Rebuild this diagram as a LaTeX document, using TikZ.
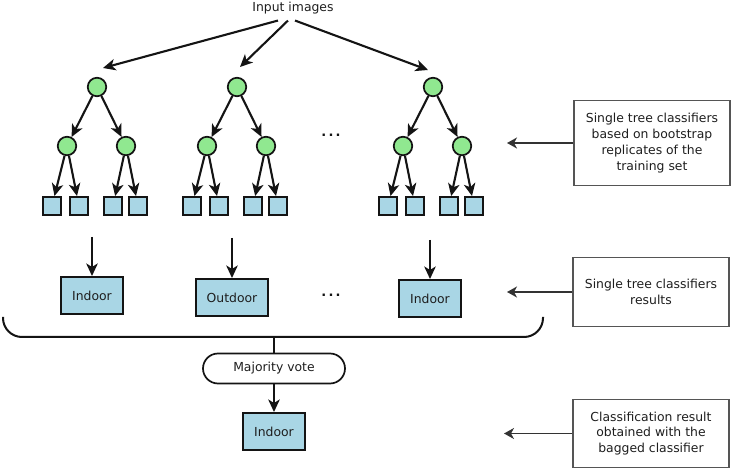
\documentclass[tikz,border=0pt]{standalone}
\usepackage{fontspec}
\setmainfont{DejaVu Sans}
\usetikzlibrary{arrows.meta,shapes.misc,calc}
\definecolor{outl}{HTML}{141414}
\definecolor{grn}{HTML}{90E890}
\definecolor{blu}{HTML}{A9D6E5}
\definecolor{gry}{HTML}{555555}
\definecolor{garr}{HTML}{333333}
\definecolor{txt}{HTML}{1E1E1E}
\begin{document}
\begin{tikzpicture}[x=1pt,y=-1pt,
  every node/.style={font=\fontsize{12.4}{15.9}\selectfont, text=txt},
  innernode/.style={circle,draw=outl,fill=grn,line width=1.7pt,minimum size=18.5pt,inner sep=0pt},
  leafbox/.style={rectangle,draw=outl,fill=blu,line width=1.9pt,minimum size=18pt,inner sep=0pt},
  resbox/.style={rectangle,draw=outl,fill=blu,line width=2pt,minimum height=37pt,inner sep=0pt},
  note/.style={rectangle,draw=gry,line width=1.2pt,align=center,inner sep=0pt,minimum width=156pt},
  treearrow/.style={-{Stealth[length=12.5pt,width=11.5pt,inset=3.5pt]},line width=2.1pt,draw=outl},
  notearrow/.style={-{Stealth[length=10pt,width=11pt,inset=3pt]},line width=1.4pt,draw=garr},
  plainline/.style={line width=2pt,draw=outl},
  dotstyle/.style={font=\fontsize{13}{16}\selectfont\bfseries, text=outl},
]
\useasboundingbox (0,0) rectangle (732,470);

% input
\node (input) at (293,8) {Input images};
\coordinate (t1) at (103,68);
\coordinate (t2) at (240,67);
\coordinate (t3) at (428,70);
\draw[treearrow] ([xshift=-15pt,yshift=-3pt]input.south) -- (t1);
\draw[treearrow] ([xshift=-5pt,yshift=-3pt]input.south) -- (t2);
\draw[treearrow] ([xshift=2pt,yshift=-3pt]input.south) -- (t3);

% trees
\foreach \i/\x in {1/97,2/237,3/433} {
  \node[innernode] (r\i) at (\x,87) {};
  \node[innernode] (a\i) at (\x-30,146) {};
  \node[innernode] (b\i) at (\x+29,146) {};
  \node[leafbox] (la\i) at (\x-45,206) {};
  \node[leafbox] (lb\i) at (\x-18,206) {};
  \node[leafbox] (lc\i) at (\x+16,206) {};
  \node[leafbox] (ld\i) at (\x+41,206) {};
  \draw[treearrow] (r\i) -- (a\i);
  \draw[treearrow] (r\i) -- (b\i);
  \draw[treearrow] (a\i) -- (la\i);
  \draw[treearrow] (a\i) -- (lb\i);
  \draw[treearrow] (b\i) -- (lc\i);
  \draw[treearrow] (b\i) -- (ld\i);
}

% dots
\node[dotstyle] (dots1) at (331,135) {.\hspace{2.2pt}.\hspace{2.2pt}.};
\node[dotstyle] (dots2) at (331,295) {.\hspace{2.2pt}.\hspace{2.2pt}.};

% results
\node[resbox,minimum width=61.5pt] (res1) at (92,295.5) {Indoor};
\node[resbox,minimum width=72pt] (res2) at (232,297.5) {Outdoor};
\node[resbox,minimum width=61.5pt] (res3) at (430,298.5) {Indoor};
\coordinate (d1) at (92,237);
\coordinate (d2) at (232,238);
\coordinate (d3) at (430,240);
\draw[treearrow] (d1) -- (d1 |- res1.north);
\draw[treearrow] (d2) -- (d2 |- res2.north);
\draw[treearrow] (d3) -- (d3 |- res3.north);

% brace
\coordinate (bc) at (274,337);
\draw[plainline,rounded corners=19pt] (3,317) |- (bc) -| (543,317);

% majority vote
\node[rounded rectangle,draw=outl,line width=1.7pt,minimum width=142pt,minimum height=30pt,inner sep=0pt] (mv) at (274,368.5) {Majority vote};
\draw[plainline] (bc) -- (bc |- mv.north);
\node[resbox,minimum width=61.5pt] (fin) at (274,431.5) {Indoor};
\draw[treearrow] (mv.south) -- (fin.north);

% notes
\node[note,minimum height=85pt] (n1) at (652,143) {Single tree classifiers\\based on bootstrap\\replicates of the\\training set};
\node[note,minimum height=69pt] (n2) at (651,292) {Single tree classifiers\\results};
\node[note,minimum height=68pt] (n3) at (651,433.5) {Classification result\\obtained with the\\bagged classifier};
\coordinate (p1) at (507,143);
\coordinate (p2) at (507,292);
\coordinate (p3) at (504,433.5);
\draw[notearrow] (n1.west) -- (p1);
\draw[notearrow] (n2.west) -- (p2);
\draw[notearrow] (n3.west) -- (p3);
\end{tikzpicture}
\end{document}
